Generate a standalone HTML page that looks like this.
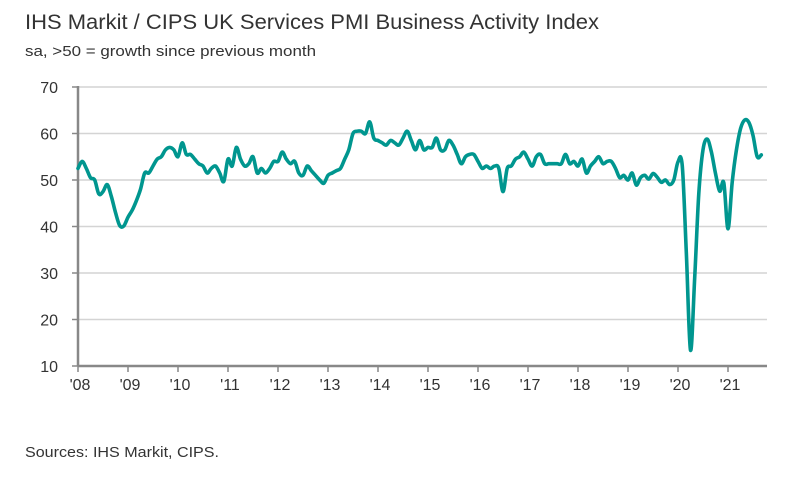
<!DOCTYPE html>
<html><head><meta charset="utf-8"><style>
body{margin:0;background:#fff;}
svg{display:block;font-family:"Liberation Sans",sans-serif;}
</style></head><body>
<svg id="chart" width="794" height="477">
<text x="25" y="29" font-size="21" fill="#333" textLength="574" lengthAdjust="spacingAndGlyphs">IHS Markit / CIPS UK Services PMI Business Activity Index</text>
<text x="25" y="56" font-size="14.5" fill="#333" textLength="291" lengthAdjust="spacingAndGlyphs">sa, &gt;50 = growth since previous month</text>
<text x="25" y="457" font-size="14.5" fill="#333" textLength="194" lengthAdjust="spacingAndGlyphs">Sources: IHS Markit, CIPS.</text>
<g id="grid"></g><g id="axes"></g><g id="series"></g>
</svg>
<script>
const yTicks=[10,20,30,40,50,60,70];
const xLabels=["'08","'09","'10","'11","'12","'13","'14","'15","'16","'17","'18","'19","'20","'21"];
const values=[
52.5,54,52.5,50.5,50,47,47.5,49,46.5,43,40.2,40.1,
42,43.5,45.5,48,51.5,51.5,53,54.5,55,56.5,57,56.5,
55,58,55.5,55.5,54.5,53.5,53,51.5,52.5,53,51.5,49.7,
54.5,53,57,54.5,53,53.5,55,51.5,52.5,51.5,52.5,54,
54,56,54.5,53.5,54,51.5,51,53,52,51,50,49.3,
51,51.5,52,52.5,54.5,56.5,60,60.5,60.5,60,62.5,59,
58.5,58,57.5,58.5,58,57.5,59,60.5,58.5,56.5,58.5,56.5,
57,57,59,56.5,56.5,58.5,57.5,55.5,53.5,55,55.5,55.5,
54,52.5,53,52.5,53,52.5,47.5,52.5,53,54.5,55,56,
54.5,53,55,55.5,53.5,53.5,53.5,53.5,53.5,55.5,53.5,54,
53,54.5,51.5,53,54,55,53.5,54,54,52.5,50.5,51,
50,51.5,48.9,50.5,51,50.2,51.4,50.6,49.5,50,49,50,
53.9,53.2,34.5,13.4,29,47.1,56.5,58.8,56.1,51.4,47.6,49.4,
39.5,49.5,56.3,61,62.9,62.4,59.6,55,55.4];
const ns="http://www.w3.org/2000/svg";
const X0=78,YW=50,Y10=366,PXU=4.65,RIGHT=767;
const xs=i=>X0+i*YW/12;
const ys=v=>Y10-(v-10)*PXU;
function mk(t,a,p){const e=document.createElementNS(ns,t);for(const k in a)e.setAttribute(k,a[k]);p.appendChild(e);return e;}
const grid=document.getElementById('grid'),axes=document.getElementById('axes'),ser=document.getElementById('series');
yTicks.forEach(v=>{
 if(v>10){const g=mk('line',{x1:X0,x2:RIGHT,y1:ys(v),y2:ys(v),stroke:'#d4d4d4','stroke-width':1.5},grid);
 
 }
 const tk=mk('line',{x1:72,x2:X0,y1:ys(v),y2:ys(v),stroke:'#888','stroke-width':1.5},axes);
 
 
 const t=mk('text',{x:58,y:ys(v)+6,'font-size':16,fill:'#333','text-anchor':'end'},axes);t.textContent=v;
 
 
});
const ya=mk('line',{x1:X0,x2:X0,y1:ys(70)-1,y2:Y10,stroke:'#888','stroke-width':2.5},axes);


const xa=mk('line',{x1:X0,x2:RIGHT,y1:Y10,y2:Y10,stroke:'#888','stroke-width':2.5},axes);


xLabels.forEach((l,i)=>{
 const x=xs(i*12);
 const tk=mk('line',{x1:x,x2:x,y1:Y10,y2:Y10+6,stroke:'#888','stroke-width':1.5},axes);
 
 
 const t=mk('text',{x:x+2,y:Y10+24,'font-size':16,fill:'#333','text-anchor':'middle'},axes);t.textContent=l;
 
 
});
const pts=values.map((v,i)=>[xs(i),ys(v)]);
let d='M'+pts[0][0].toFixed(1)+','+pts[0][1].toFixed(1);
for(let i=0;i<pts.length-1;i++){
 const p0=pts[i-1]||pts[i],p1=pts[i],p2=pts[i+1],p3=pts[i+2]||p2,k=1/6;
 const c1=[p1[0]+(p2[0]-p0[0])*k,p1[1]+(p2[1]-p0[1])*k];
 const c2=[p2[0]-(p3[0]-p1[0])*k,p2[1]-(p3[1]-p1[1])*k];
 d+='C'+c1.map(n=>n.toFixed(1)).join(',')+' '+c2.map(n=>n.toFixed(1)).join(',')+' '+p2.map(n=>n.toFixed(1)).join(',');
}
const p=mk('path',{d:d,fill:'none',stroke:'#00968f','stroke-width':3.6,'stroke-linejoin':'round','stroke-linecap':'round'},ser);


</script>
</body></html>
